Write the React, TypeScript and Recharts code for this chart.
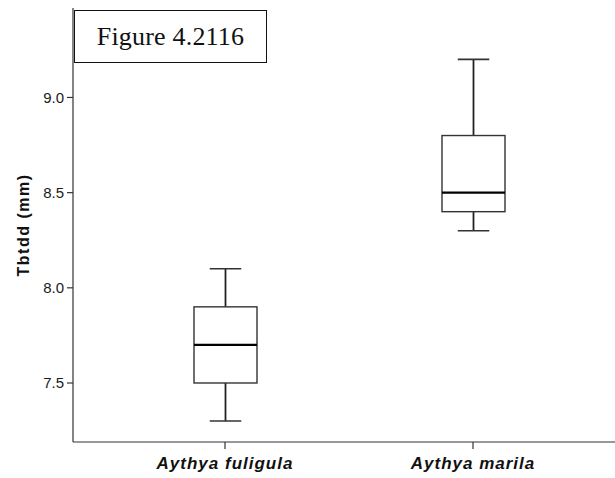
import { BarChart, Bar, XAxis, YAxis } from "recharts";

const species = ["Aythya fuligula", "Aythya marila"];
const minValues = [7.3, 8.3];
const q1Values = [7.5, 8.4];
const medianValues = [7.7, 8.5];
const q3Values = [7.9, 8.8];
const maxValues = [8.1, 9.2];
const yTicks = [7.5, 8.0, 8.5, 9.0];

const data = species.map((name, i) => ({
  name,
  range: [minValues[i], maxValues[i]],
  min: minValues[i],
  q1: q1Values[i],
  median: medianValues[i],
  q3: q3Values[i],
  max: maxValues[i],
}));

// draws one box + whiskers inside the pixel span the bar gets for [min, max]
const BoxShape = (props: any) => {
  const { x, y, width, height, payload } = props;
  const top = Math.min(y, y + height);
  const bottom = Math.max(y, y + height);
  const px = (v: number) =>
    bottom - ((v - payload.min) / (payload.max - payload.min)) * (bottom - top);
  const cx = x + width / 2;
  const cap = width / 4;
  return (
    <g>
      <line x1={cx} x2={cx} y1={px(payload.max)} y2={px(payload.q3)} stroke="#222" strokeWidth={1.8} />
      <line x1={cx} x2={cx} y1={px(payload.q1)} y2={px(payload.min)} stroke="#222" strokeWidth={1.8} />
      <line x1={cx - cap} x2={cx + cap} y1={px(payload.max)} y2={px(payload.max)} stroke="#333" strokeWidth={1.6} />
      <line x1={cx - cap} x2={cx + cap} y1={px(payload.min)} y2={px(payload.min)} stroke="#333" strokeWidth={1.6} />
      <rect
        x={x}
        y={px(payload.q3)}
        width={width}
        height={px(payload.q1) - px(payload.q3)}
        fill="#fff"
        stroke="#333"
        strokeWidth={1.4}
      />
      <line x1={x} x2={x + width} y1={px(payload.median)} y2={px(payload.median)} stroke="#000" strokeWidth={2.4} />
    </g>
  );
};

export default function App() {
  return (
    <div style={{ position: "absolute", left: 0, top: 0, width: 615, height: 478, background: "#fff" }}>
      <BarChart
        width={615}
        height={478}
        data={data}
        margin={{ top: 8, right: 0, bottom: 0, left: 0 }}
      >
        <XAxis
          xAxisId="top"
          orientation="top"
          dataKey="name"
          height={0}
          tick={false}
          tickLine={false}
          axisLine={{ stroke: "#555", strokeWidth: 1.2 }}
        />
        <XAxis
          dataKey="name"
          height={36}
          padding={{ left: 28, right: 18 }}
          axisLine={{ stroke: "#333", strokeWidth: 1.2 }}
          tickLine={{ stroke: "#333", strokeWidth: 1.2 }}
          tickSize={7}
          tickMargin={8}
          tick={{
            fontSize: 17,
            fontWeight: "bold",
            fontStyle: "italic",
            fill: "#111",
            fontFamily: "Liberation Sans, Arial, sans-serif",
            letterSpacing: 1,
          }}
        />
        <YAxis
          width={73}
          type="number"
          domain={[7.19, 9.47]}
          ticks={yTicks}
          tickFormatter={(v: number) => v.toFixed(1)}
          axisLine={{ stroke: "#333", strokeWidth: 1.2 }}
          tickLine={{ stroke: "#333", strokeWidth: 1.2 }}
          tickSize={6}
          tickMargin={3}
          tick={{ fontSize: 15, fill: "#1a1a1a", fontFamily: "Liberation Sans, Arial, sans-serif" }}
          label={({ viewBox }: any) => {
            const lx = viewBox.x + 23;
            const ly = viewBox.y + viewBox.height / 2;
            return (
              <text
                x={lx}
                y={ly}
                transform={`rotate(-90, ${lx}, ${ly})`}
                textAnchor="middle"
                dominantBaseline="central"
                fontSize={16}
                fontWeight="bold"
                letterSpacing={1.5}
                fill="#111"
                fontFamily="Liberation Sans, Arial, sans-serif"
              >
                Tbtdd (mm)
              </text>
            );
          }}
        />
        <Bar dataKey="range" barSize={63} shape={BoxShape} isAnimationActive={false} />
      </BarChart>
      <div
        style={{
          position: "absolute",
          left: 74,
          top: 10,
          width: 191,
          height: 51,
          border: "1.5px solid #111",
          background: "#fff",
          fontFamily: "Liberation Serif, Times New Roman, serif",
          fontSize: 26,
          letterSpacing: 0.2,
          color: "#111",
          display: "flex",
          alignItems: "center",
          justifyContent: "center",
        }}
      >
        Figure 4.2116
      </div>
    </div>
  );
}
